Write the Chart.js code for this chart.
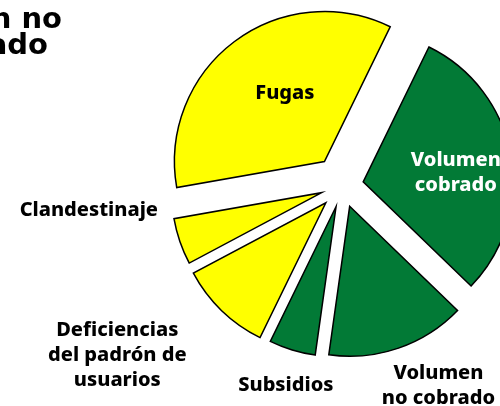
<!DOCTYPE html>
<html>
<head>
<meta charset="utf-8">
<script src="https://cdn.jsdelivr.net/npm/chart.js@4"></script>
<style>
  html, body { margin: 0; padding: 0; background: #fff; overflow: hidden; }
  #vol-chart { display: block; }
</style>
</head>
<body>
<canvas id="vol-chart" width="500" height="406"></canvas>
<script>
// Volume shares (%), clockwise from the upper right
const categories = ["Volumen cobrado", "Volumen no cobrado", "Subsidios",
    "Deficiencias del padrón de usuarios", "Clandestinaje", "Fugas"];
const shares = [30, 15, 5, 10, 5, 35];
const sliceColors = ["#027a36", "#027a36", "#027a36", "#ffff00", "#ffff00", "#ffff00"];

// how far each slice is pulled out from the centre (px)
const shift = [21, 22, 22, 24, 22, 30];

// label text, colour and placement (angle in degrees, distance in radii)
const labelLines = [
    ["Volumen", "cobrado"],
    ["Volumen", "no cobrado"],
    ["Subsidios"],
    ["Deficiencias", "del padrón de", "usuarios"],
    ["Clandestinaje"],
    ["Fugas"]
];
const labelColors = ["#ffffff", "#000", "#000", "#000", "#000", "#000"];
const labelPlace = [[-6.2, 0.76], [64.4, 1.48], [105.8, 1.387], [143, 1.88], [174.5, 1.699], [238.1, 0.727]];

const explode = {
    id: "explode",
    beforeDatasetDraw(chart, args) {
        const ctx = chart.ctx;
        args.meta.data.forEach((arc, i) => {
            const mid = (arc.startAngle + arc.endAngle) / 2;
            ctx.save();
            ctx.translate(Math.cos(mid) * shift[i], Math.sin(mid) * shift[i]);
            arc.draw(ctx);
            ctx.restore();
        });
        return false;
    }
};

const sliceLabels = {
    id: "sliceLabels",
    afterDatasetsDraw(chart) {
        const ctx = chart.ctx;
        const arcs = chart.getDatasetMeta(0).data;
        ctx.save();
        ctx.textAlign = "center";
        ctx.textBaseline = "middle";
        ctx.font = "800 20px 'Noto Sans'";
        arcs.forEach((arc, i) => {
            const a = labelPlace[i][0] * Math.PI / 180;
            const d = labelPlace[i][1] * arc.outerRadius;
            const x = arc.x + Math.cos(a) * d;
            const y = arc.y + Math.sin(a) * d;
            const lines = labelLines[i];
            const lh = 25;
            ctx.fillStyle = labelColors[i];
            lines.forEach((t, j) => {
                ctx.fillText(t, x, y + (j - (lines.length - 1) / 2) * lh);
            });
        });

        // heading, mostly off the left edge
        ctx.fillStyle = "#000";
        ctx.font = "bold 29px 'DejaVu Sans'";
        ctx.textAlign = "right";
        ctx.textBaseline = "alphabetic";
        ctx.fillText("Volumen no", 62, 28);
        ctx.fillText("cobrado", 48, 54);
        ctx.restore();
    }
};

new Chart(document.getElementById("vol-chart").getContext("2d"), {
    type: "pie",
    data: {
        labels: categories,
        datasets: [{
            data: shares,
            backgroundColor: sliceColors,
            borderColor: "#000",
            borderWidth: 1.5,
            borderJoinStyle: "miter",
            clip: false
        }]
    },
    options: {
        responsive: false,
        animation: false,
        rotation: 26,
        radius: 150,
        layout: { padding: { left: 185, right: 0, top: 0, bottom: 35 } },
        plugins: {
            legend: { display: false },
            tooltip: { enabled: false }
        }
    },
    plugins: [explode, sliceLabels]
});
</script>
</body>
</html>
